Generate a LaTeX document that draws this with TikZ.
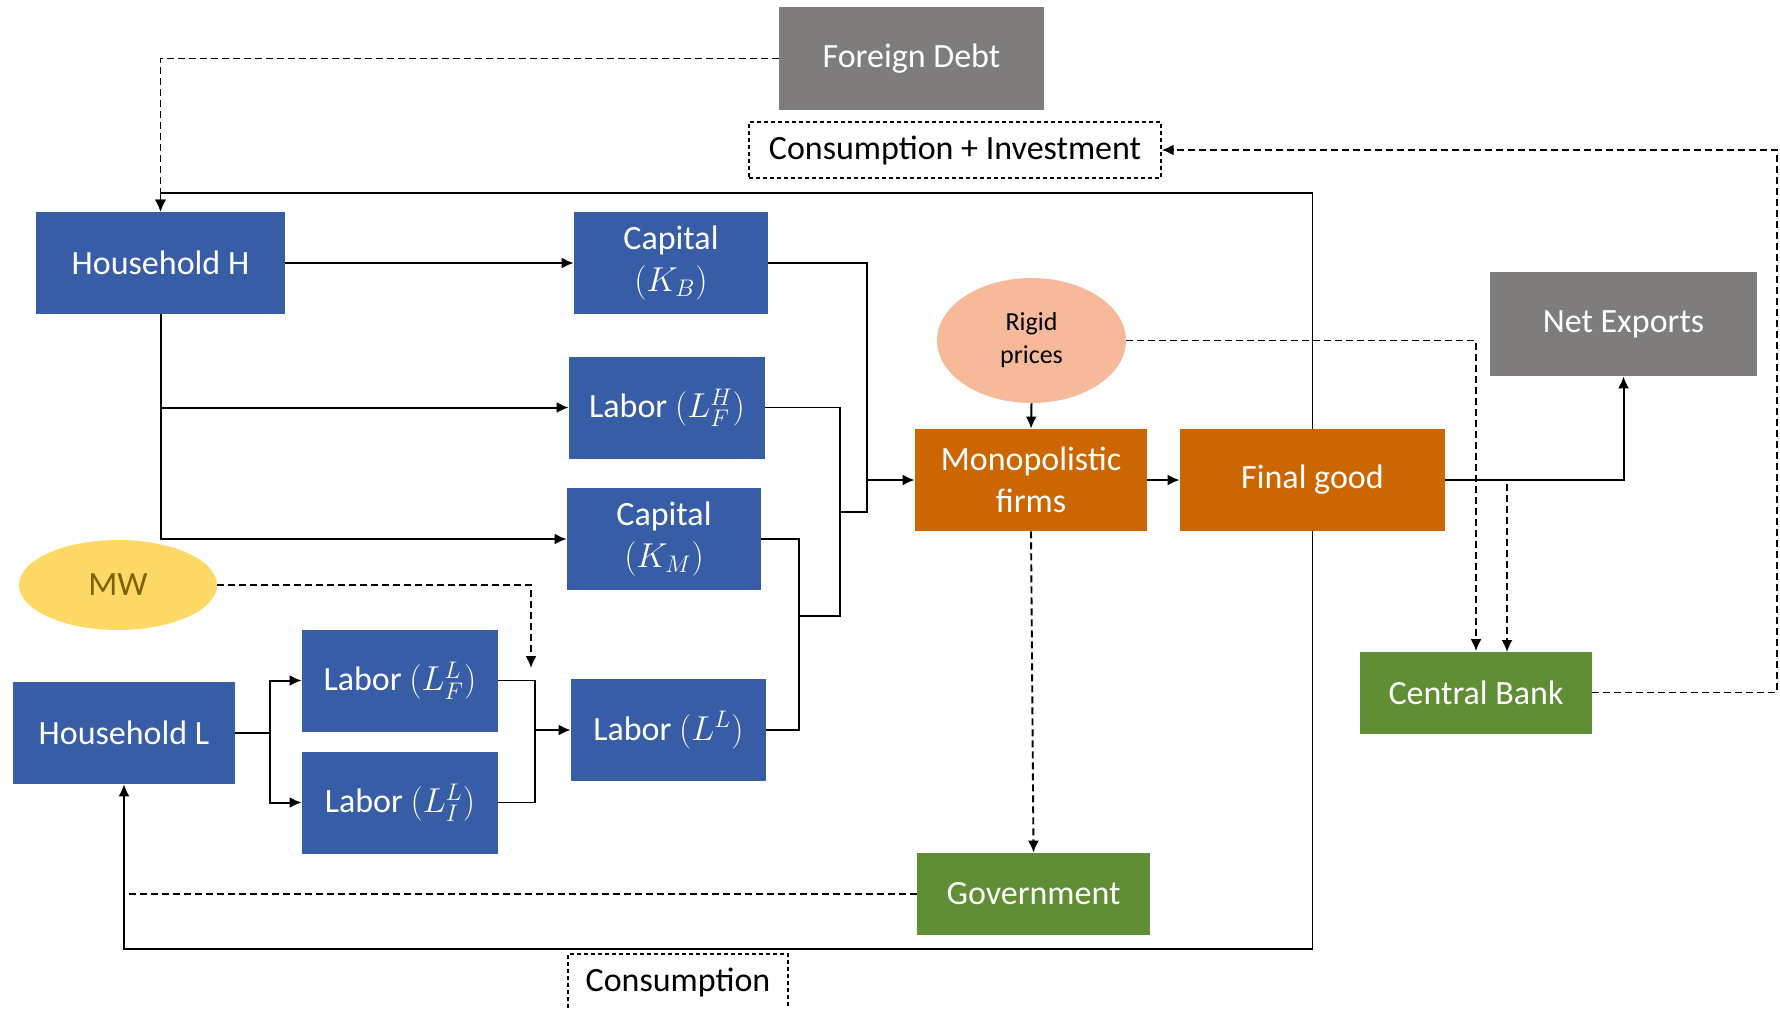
\documentclass[tikz,border=0pt]{standalone}
\usepackage{fontspec}
\setmainfont{Carlito}
\usetikzlibrary{arrows.meta,shapes.geometric}

\definecolor{hblue}{RGB}{55,93,166}
\definecolor{forange}{RGB}{204,102,0}
\definecolor{pgreen}{RGB}{96,142,52}
\definecolor{dgray}{RGB}{127,124,124}
\definecolor{rigidc}{RGB}{246,186,154}
\definecolor{mwyellow}{RGB}{255,217,102}
\definecolor{mwtext}{RGB}{128,96,0}

\begin{document}
\begin{tikzpicture}[x=0.5pt, y=-0.5pt, >={Latex[length=6pt,width=5.5pt]},
   font=\fontsize{17}{21}\selectfont,
   box/.style={rectangle, inner sep=0pt, text=white, align=center, minimum height=51pt},
   agent/.style={box, fill=hblue},
   firm/.style={box, fill=forange},
   policy/.style={box, fill=pgreen, minimum height=41pt},
   extern/.style={box, fill=dgray, minimum height=52pt},
   tag/.style={draw, dash pattern=on 2pt off 1.5pt, line width=0.7pt, text=black, inner sep=0pt, minimum height=28pt},
   flow/.style={line width=1pt},
   merge/.style={line width=0.75pt},
   link/.style={dash pattern=on 3.5pt off 2pt, line width=0.95pt}]
   \useasboundingbox (0,0) rectangle (1780,1008);

   \node (fd) at (911.5,58.5) [extern, minimum width=132.5pt, minimum height=51.5pt] {Foreign Debt};
   \node (ci) at (955,150) [tag, minimum width=206pt] {Consumption + Investment};
   \node (hh) at (160.5,263) [agent, minimum width=124.5pt] {Household H};
   \node (kb) at (671,263) [agent, minimum width=97pt] {Capital\\$(K_B)$};
   \node (lfh) at (667,407.5) [agent, minimum width=98pt] {Labor $(L_F^H)$};
   \node (km) at (664,539) [agent, minimum width=97pt] {Capital\\$(K_M)$};
   \node (mw) at (118,585) [ellipse, fill=mwyellow, text=mwtext, minimum width=99pt, minimum height=45pt, inner sep=0pt] {MW};
   \node (lfl) at (400,680.5) [agent, minimum width=98pt] {Labor $(L_F^L)$};
   \node (lil) at (400,802.5) [agent, minimum width=98pt] {Labor $(L_I^L)$};
   \node (hl) at (124,733) [agent, minimum width=111pt] {Household L};
   \node (ll) at (668.5,730) [agent, minimum width=97.5pt] {Labor $(L^L)$};
   \node (rp) at (1031.5,340.5) [ellipse, fill=rigidc, text=black, minimum width=94.5pt, minimum height=62.5pt, inner sep=0pt, align=center, font=\fontsize{13}{16.5}\selectfont] {Rigid\\prices};
   \node (mono) at (1031,480) [firm, minimum width=116pt] {Monopolistic\\firms};
   \node (fg) at (1312.5,480) [firm, minimum width=132.5pt] {Final good};
   \node (ne) at (1623.5,324) [extern, minimum width=133.5pt] {Net Exports};
   \node (cb) at (1476,692.5) [policy, minimum width=116pt] {Central Bank};
   \node (gov) at (1033.5,894) [policy, minimum width=116.5pt] {Government};
   \node (cons) at (678,982) [tag, minimum width=110pt] {Consumption};

   \coordinate (splitL) at (270,733);
   \coordinate (joinL) at (535,730);
   \coordinate (j1) at (799,616);
   \coordinate (j2) at (840,512);
   \coordinate (j3) at (867,480);
   \coordinate (topL) at (161,193);
   \coordinate (botL) at (123,949);
   \coordinate (mwend) at (531,668);
   \coordinate (cbin) at (1507,652);
   \coordinate (edgeR) at (1777,150);

   \draw[->, flow] (hh.east) -- (kb.west);
   \draw[->, flow] (hh.south) |- (lfh.west);
   \draw[->, flow] (hh.south) |- (km.west);
   \draw[flow] (hl.east) -- (splitL);
   \draw[->, flow] (splitL) |- (lfl.west);
   \draw[->, flow] (splitL) |- (lil.west);
   \draw[merge] (lfl.east) -| (joinL);
   \draw[merge] (lil.east) -| (joinL);
   \draw[->, flow] (joinL) -- (ll.west);

   \draw[merge] (km.east) -| (j1);
   \draw[merge] (ll.east) -| (j1);
   \draw[merge] (lfh.east) -| (j2);
   \draw[merge] (j1) -| (j2);
   \draw[merge] (kb.east) -| (j3);
   \draw[merge] (j2) -| (j3);
   \draw[->, flow] (j3) -- (mono.west);

   \draw[->, flow] (rp.south) -- (mono.north);
   \draw[->, flow] (mono.east) -- (fg.west);
   \draw[->, flow] (fg.east) -| (ne.south);
   \draw[->, merge] (fg.north) |- (hh.north |- topL) -- (hh.north);
   \draw[->, merge] (fg.south) |- (hl.south |- botL) -- (hl.south);

   \draw[->, link] (fd.west) -| (hh.north);
   \draw[->, link] (mono.south) -- (gov.north);
   \draw[link] (gov.west) -- (hl.south |- gov.west);
   \draw[->, link] (mw.east) -| (mwend);
   \draw[->, link] (rp.east) -| (cb.north);
   \draw[->, link] (fg.east) -| (cbin);
   \draw[->, link] (cb.east) -| (edgeR) -- (ci.east);
\end{tikzpicture}
\end{document}
